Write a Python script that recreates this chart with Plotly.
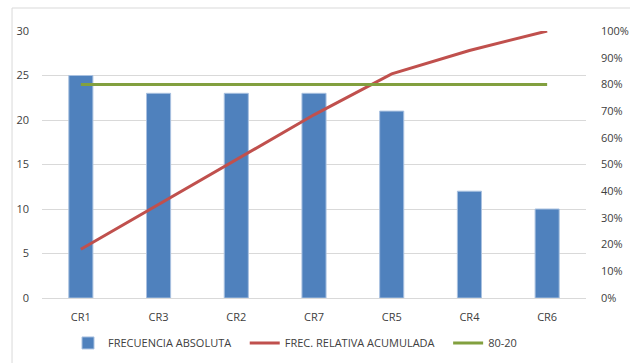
import plotly.graph_objects as go

categories = ["CR1", "CR3", "CR2", "CR7", "CR5", "CR4", "CR6"]
frecuencia = [25, 23, 23, 23, 21, 12, 10]
total = sum(frecuencia)
acum = []
s = 0
for v in frecuencia:
    s += v
    acum.append(s / total)
ref_8020 = [0.8] * len(categories)

left_ticks = [0, 5, 10, 15, 20, 25, 30]
right_ticks = [i / 10 for i in range(11)]
right_labels = [f"{i*10}%" for i in range(11)]

font = dict(family="Open Sans, Liberation Sans, sans-serif", size=11, color="#404040")
pad = "\u00a0" * 3

fig = go.Figure()
fig.add_trace(go.Bar(x=categories, y=frecuencia, name="FRECUENCIA ABSOLUTA" + pad,
                     marker=dict(color="#4F81BD", line=dict(color="#A9C1E0", width=1))))
fig.add_trace(go.Scatter(x=categories, y=acum, name="FREC. RELATIVA ACUMULADA" + pad, yaxis="y2",
                         mode="lines", line=dict(color="#C0504D", width=3)))
fig.add_trace(go.Scatter(x=categories, y=ref_8020, name="80-20", yaxis="y2",
                         mode="lines", line=dict(color="#82A03F", width=3)))

fig.update_layout(
    width=630, height=363,
    margin=dict(l=42, r=44, t=31, b=65, autoexpand=False),
    paper_bgcolor="white", plot_bgcolor="white",
    font=font,
    bargap=0.69,
    showlegend=True,
    legend=dict(orientation="h", x=(78 - 42 - 10) / 544, xanchor="left", y=-0.114, yanchor="top",
                font=dict(size=11, color="#404040"), tracegroupgap=0),
    xaxis=dict(showgrid=False, showline=True, linecolor="#D9D9D9", ticks="",
               tickfont=dict(size=11, color="#404040"), ticklabelstandoff=9),
    yaxis=dict(range=[0, 30], tickvals=left_ticks, showgrid=True, gridcolor="#D9D9D9",
               zeroline=False, ticks="", ticklabelstandoff=12),
    yaxis2=dict(range=[0, 1], tickvals=right_ticks, ticktext=right_labels, overlaying="y",
                side="right", showgrid=False, zeroline=False, ticks="", ticklabelstandoff=14),
    shapes=[dict(type="rect", xref="paper", yref="paper", x0=-0.0551, y0=-0.4,
                 x1=1.2, y1=1.0861, line=dict(color="#D9D9D9", width=1), layer="below")],
)

fig.write_html("out.html")
